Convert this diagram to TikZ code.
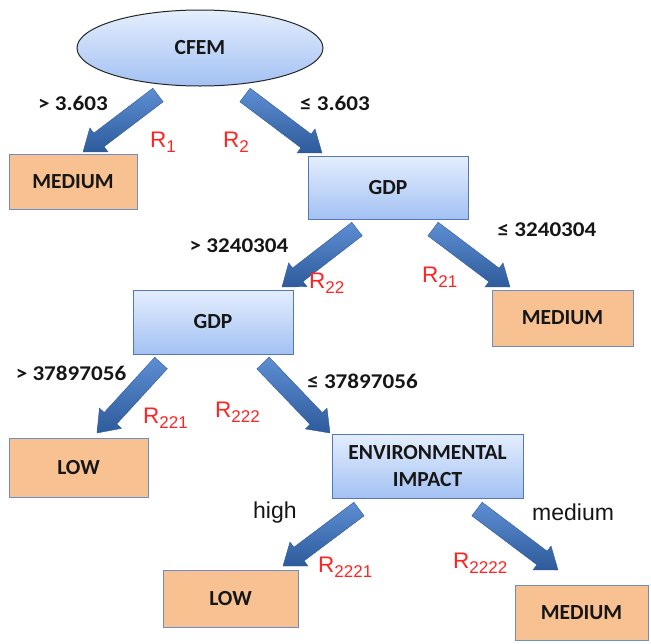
\documentclass[tikz,border=0pt]{standalone}
\usepackage{fontspec}
\setmainfont{Carlito}
\newfontfamily\lblfont{Carlito}[FakeStretch=1.1]
\newfontfamily\arialfont{Liberation Sans}
\usetikzlibrary{shapes.geometric,calc}
\definecolor{bluetop}{HTML}{E4EEFD}
\definecolor{bluebot}{HTML}{A3C1F3}
\definecolor{boxline}{HTML}{5478B4}
\definecolor{orfill}{HTML}{F8C191}
\definecolor{orline}{HTML}{6E8EC2}
\definecolor{arrtop}{HTML}{5E8ED3}
\definecolor{arrbot}{HTML}{2D5B9B}
\definecolor{rred}{HTML}{FF2424}
\definecolor{textdark}{HTML}{161616}
\tikzset{
  bluebox/.style={rectangle, draw=boxline, line width=1pt, top color=bluetop, bottom color=bluebot,
    inner sep=0pt, font=\bfseries\fontsize{21.5}{27}\selectfont, text=textdark, align=center},
  orangebox/.style={rectangle, draw=orline, line width=1pt, fill=orfill,
    inner sep=0pt, font=\bfseries\fontsize{21.5}{27}\selectfont, text=textdark, align=center},
  cond/.style={font=\lblfont\bfseries\fontsize{21}{21}\selectfont, text=textdark, inner sep=0pt},
  rlab/.style={font=\arialfont\fontsize{22.5}{22.5}\selectfont, text=rred, inner sep=0pt, anchor=base west},
  val/.style={font=\arialfont\fontsize{23}{23}\selectfont, text=textdark, inner sep=0pt, anchor=base west},
  arrowfill/.style={top color=arrtop, bottom color=arrbot, draw=arrbot, line width=0.4pt, line join=miter}
}
\newcommand\Rsub[1]{R\raisebox{-5pt}{\fontsize{17}{17}\selectfont #1}}
\newcommand\blockarrow[2]{%
  \coordinate (hb) at ($(#2)!20pt!(#1)$);
  \path[arrowfill] ($(#1)!8.5pt!90:(#2)$) -- ($(hb)!8.5pt!90:(#2)$) -- ($(hb)!15pt!90:(#2)$)
    -- (#2) -- ($(hb)!15pt!-90:(#2)$) -- ($(hb)!8.5pt!-90:(#2)$) -- ($(#1)!8.5pt!-90:(#2)$) -- cycle;}
\begin{document}
\begin{tikzpicture}[x=1pt,y=-1pt]
\useasboundingbox (0,0) rectangle (651,643);
% nodes
\node[ellipse, draw=black!85, line width=1pt, top color=bluetop, bottom color=bluebot,
  minimum width=246pt, minimum height=76pt, inner sep=0pt,
  font=\bfseries\fontsize{21.5}{27}\selectfont, text=textdark] (cfem) at (200,48) {CFEM};
\node[orangebox, minimum width=128pt, minimum height=55pt] (med1) at (73,181.5) {MEDIUM};
\node[bluebox, minimum width=160pt, minimum height=63pt] (gdp1) at (388,187.5) {GDP};
\node[bluebox, minimum width=160pt, minimum height=64pt] (gdp2) at (213,322) {GDP};
\node[orangebox, minimum width=141pt, minimum height=56pt] (med2) at (562.5,318) {MEDIUM};
\node[orangebox, minimum width=139pt, minimum height=59pt] (low1) at (78.5,467.5) {LOW};
\node[bluebox, minimum width=191pt, minimum height=64pt] (env) at (427.5,466) {ENVIRONMENTAL\\IMPACT};
\node[orangebox, minimum width=135pt, minimum height=57pt] (low2) at (230.5,598.5) {LOW};
\node[orangebox, minimum width=133pt, minimum height=55pt] (med3) at (581.5,612.5) {MEDIUM};
% connector end points
\coordinate (a1t) at (158,95);  \coordinate (a1h) at (83,152);
\coordinate (a2t) at (245,95);  \coordinate (a2h) at (322,153);
\coordinate (a3t) at (357,229); \coordinate (a3h) at (282,287);
\coordinate (a4t) at (433,229); \coordinate (a4h) at (510,287);
\coordinate (a5t) at (161,363); \coordinate (a5h) at (97,433);
\coordinate (a6t) at (263,363); \coordinate (a6h) at (330,433);
\coordinate (a7t) at (359,509); \coordinate (a7h) at (283,566);
\coordinate (a8t) at (477,509); \coordinate (a8h) at (558,570);
\blockarrow{a1t}{a1h}
\blockarrow{a2t}{a2h}
\blockarrow{a3t}{a3h}
\blockarrow{a4t}{a4h}
\blockarrow{a5t}{a5h}
\blockarrow{a6t}{a6h}
\blockarrow{a7t}{a7h}
\blockarrow{a8t}{a8h}
% condition labels
\node[cond] (c1) at (73,103) {> 3.603};
\node[cond] (c2) at (335,103) {≤ 3.603};
\node[cond] (c3) at (239,245.5) {> 3240304};
\node[cond] (c4) at (547,230) {≤ 3240304};
\node[cond] (c5) at (71,373) {> 37897056};
\node[cond] (c6) at (362.5,381.5) {≤ 37897056};
\node[val] (v1) at (253,518.5) {high};
\node[val] (v2) at (532,520) {medium};
% rule labels
\node[rlab] (r1) at (150,147) {\Rsub{1}};
\node[rlab] (r2) at (223,147) {\Rsub{2}};
\node[rlab] (r22) at (309,288) {\Rsub{22}};
\node[rlab] (r21) at (422,282) {\Rsub{21}};
\node[rlab] (r221) at (143,423) {\Rsub{221}};
\node[rlab] (r222) at (215,417) {\Rsub{222}};
\node[rlab] (r2221) at (318,572) {\Rsub{2221}};
\node[rlab] (r2222) at (453,568) {\Rsub{2222}};
\end{tikzpicture}
\end{document}
